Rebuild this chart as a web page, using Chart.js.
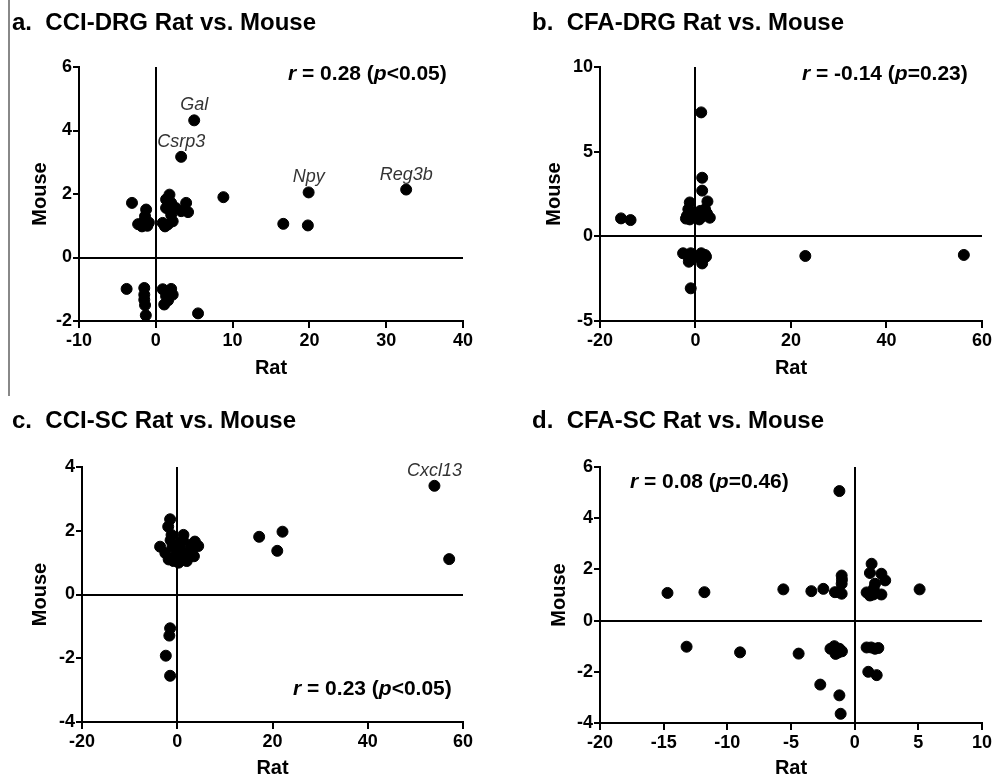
<!DOCTYPE html>
<html>
<head>
<meta charset="utf-8">
<script src="https://cdn.jsdelivr.net/npm/chart.js@4/dist/chart.umd.min.js"></script>
<style>
  body { margin: 0; background: #fff; }
  #wrap { position: relative; width: 994px; height: 779px; font-family: 'Liberation Sans', Arial, sans-serif; }
  canvas { position: absolute; }
  .title { position: absolute; font-size: 24px; font-weight: bold; line-height: 1; white-space: pre; color: #000; }
  .stat { position: absolute; font-size: 21px; font-weight: bold; line-height: 1; white-space: pre; color: #000; }
  #edge { position: absolute; left: 8px; top: 0; width: 2px; height: 396px; background: #888; }
</style>
</head>
<body>
<div id="wrap">
  <div id="edge"></div>
  <canvas id="chartA" width="497" height="390" style="left:0;top:0"></canvas>
  <canvas id="chartB" width="497" height="390" style="left:497px;top:0"></canvas>
  <canvas id="chartC" width="497" height="389" style="left:0;top:390px"></canvas>
  <canvas id="chartD" width="497" height="389" style="left:497px;top:390px"></canvas>

  <div class="title" style="left:12px;top:10px">a.  CCI-DRG Rat vs. Mouse</div>
  <div class="title" style="left:532px;top:10px">b.  CFA-DRG Rat vs. Mouse</div>
  <div class="title" style="left:12px;top:408px">c.  CCI-SC Rat vs. Mouse</div>
  <div class="title" style="left:532px;top:408px">d.  CFA-SC Rat vs. Mouse</div>

  <div class="stat" style="left:288px;top:62px"><i>r</i> = 0.28 (<i>p</i>&lt;0.05)</div>
  <div class="stat" style="left:802px;top:62px"><i>r</i> = -0.14 (<i>p</i>=0.23)</div>
  <div class="stat" style="left:293px;top:677px"><i>r</i> = 0.23 (<i>p</i>&lt;0.05)</div>
  <div class="stat" style="left:630px;top:470px"><i>r</i> = 0.08 (<i>p</i>=0.46)</div>
</div>
<script>
// a. CCI-DRG
const ccidrgRat = [5.0, 3.3, 19.9, 32.6, 8.8, 16.6, 19.8, -3.1, -1.26,
  -2.3, -1.5, -0.9, -1.8, -1.1, -1.4,
  1.78, 1.34, 2.0, 3.95, 1.34, 2.6, 4.2, 3.3, 2.0, 0.9, 1.56, 2.2, 1.2,
  -3.8, -1.5, -1.5, -1.5, -1.4, -1.3, 0.9, 2.0, 1.34, 1.1, 2.2, 5.5, 1.6];
const ccidrgMouse = [4.32, 3.17, 2.05, 2.14, 1.90, 1.06, 1.01, 1.72, 1.51,
  1.05, 1.15, 1.1, 0.98, 1.0, 1.3,
  1.98, 1.83, 1.72, 1.72, 1.56, 1.56, 1.43, 1.46, 1.35, 1.09, 1.04, 1.14, 0.98,
  -0.99, -0.96, -1.17, -1.33, -1.5, -1.82, -1.0, -0.99, -1.22, -1.48, -1.17, -1.76, -1.35];
const ccidrgXTicks = [-10, 0, 10, 20, 30, 40];
const ccidrgYTicks = [-2, 0, 2, 4, 6];
const ccidrgGenes = ['Gal', 'Csrp3', 'Npy', 'Reg3b'];
const ccidrgGeneRat = [5.0, 3.3, 19.9, 32.6];
const ccidrgGeneMouse = [4.32, 3.17, 2.05, 2.14];

// b. CFA-DRG
const cfadrgRat = [-15.6, -13.6, 1.2, 1.4, 1.4, -1.2, 2.5,
  -1.8, -1.2, -0.5, 0.3, 1.0, 1.6, 2.4, 3.0, -1.5, 0.8, 2.0, -2.0,
  -2.6, -1.8, -1.0, -0.6, -1.4, 0.6, 1.2, 2.0, 1.4, 2.2, -1.0, 23.0, 56.2];
const cfadrgMouse = [1.06, 0.96, 7.32, 3.46, 2.7, 2.0, 2.06,
  1.2, 1.0, 1.4, 1.1, 1.5, 1.2, 1.35, 1.1, 1.6, 1.0, 1.6, 1.05,
  -1.0, -1.1, -1.0, -1.3, -1.5, -1.2, -1.0, -1.1, -1.6, -1.2, -3.07, -1.16, -1.1];
const cfadrgXTicks = [-20, 0, 20, 40, 60];
const cfadrgYTicks = [-5, 0, 5, 10];

// c. CCI-SC
const cciscRat = [54.0, 57.1, 17.2, 22.1, 21.0,
  -1.5, -1.66, -2.4, -1.5,
  -1.5, -1.9, -1.2, -3.6, 1.3, 3.7, 4.4,
  -2.5, -1.8, -1.0, -0.5, 0.3, 0.8, 1.5, 2.2, 2.8, 3.5, 1.2, -1.4, 0.5, 2.0, -0.8, 1.0, 3.0];
const cciscMouse = [3.41, 1.11, 1.81, 1.97, 1.37,
  -1.06, -1.29, -1.92, -2.55,
  2.36, 2.13, 1.87, 1.5, 1.87, 1.66, 1.52,
  1.3, 1.1, 1.5, 1.2, 1.0, 1.4, 1.1, 1.3, 1.55, 1.2, 1.7, 1.7, 1.6, 1.05, 1.05, 1.2, 1.35];
const cciscXTicks = [-20, 0, 20, 40, 60];
const cciscYTicks = [-4, -2, 0, 2, 4];
const cciscGenes = ['Cxcl13'];
const cciscGeneRat = [54.0];
const cciscGeneMouse = [3.41];

// d. CFA-SC
const cfascRat = [-1.2, -14.7, -11.8, -5.6, -3.4, -2.46,
  -1.02, -1.02, -1.29, -1.02, -1.55, -1.0,
  1.33, 1.2, 2.1, 2.4, 1.6, 0.94, 1.46, 2.1, 1.2, 1.5, 5.1,
  -13.2, -9.0, -4.4, -1.6, -1.2, -1.5, -1.0, -1.9, -1.3,
  0.94, 1.3, 1.86, 1.6, 1.07, 1.73, -2.7, -1.2, -1.1];
const cfascMouse = [5.06, 1.08, 1.11, 1.22, 1.15, 1.24,
  1.76, 1.44, 1.11, 1.05, 1.11, 1.6,
  2.22, 1.86, 1.83, 1.57, 1.44, 1.1, 1.02, 1.02, 0.98, 1.25, 1.22,
  -1.02, -1.24, -1.29, -1.0, -1.1, -1.3, -1.2, -1.1, -1.25,
  -1.05, -1.05, -1.07, -1.1, -2.0, -2.13, -2.5, -2.92, -3.64];
const cfascXTicks = [-20, -15, -10, -5, 0, 5, 10];
const cfascYTicks = [-4, -2, 0, 2, 4, 6];

Chart.defaults.font.family = "'Liberation Sans', Arial, sans-serif";
Chart.defaults.color = '#000';

const zeroLine = ctx => (ctx.tick && ctx.tick.value === 0) ? '#000' : 'rgba(0,0,0,0)';

// writes the gene names just above their points
const geneLabels = {
  id: 'geneLabels',
  afterDatasetsDraw(chart, args, opts) {
    if (!opts.names) return;
    const c = chart.ctx;
    c.save();
    c.font = "italic 18px 'Liberation Sans', Arial, sans-serif";
    c.fillStyle = '#333';
    c.textAlign = 'center';
    c.textBaseline = 'alphabetic';
    opts.names.forEach((n, i) => {
      const x = chart.scales.x.getPixelForValue(opts.rat[i]);
      const y = chart.scales.y.getPixelForValue(opts.mouse[i]);
      c.fillText(n, x, y - 10);
    });
    c.restore();
  }
};

function makePanel(id, rat, mouse, xTicks, yTicks, box, genes) {
  const points = rat.map((r, i) => ({ x: r, y: mouse[i] }));
  const axis = (ticks, title, fit) => ({
    type: 'linear',
    min: ticks[0],
    max: ticks[ticks.length - 1],
    ticks: {
      stepSize: ticks[1] - ticks[0],
      autoSkip: false,
      maxRotation: 0,
      padding: fit.pad,
      color: '#000',
      font: { size: 18, weight: 'bold' }
    },
    grid: {
      color: zeroLine,
      lineWidth: 2,
      drawTicks: true,
      tickLength: fit.tick,
      tickColor: '#000',
      tickWidth: 2
    },
    border: { display: true, color: '#000', width: 2 },
    title: {
      display: true,
      text: title,
      color: '#000',
      padding: 0,
      font: { size: 20, weight: 'bold', lineHeight: 1 }
    },
    afterFit: fit.fn
  });
  return new Chart(document.getElementById(id), {
    type: 'scatter',
    data: {
      datasets: [{
        data: points,
        backgroundColor: '#000',
        borderColor: '#000',
        pointRadius: 5.5,
        pointHoverRadius: 5.5
      }]
    },
    options: {
      responsive: false,
      animation: false,
      layout: { padding: box.pad },
      plugins: {
        legend: { display: false },
        tooltip: { enabled: false },
        geneLabels: genes || {}
      },
      scales: {
        x: axis(xTicks, 'Rat', { pad: 2, tick: 7, fn: s => { s.height = box.xh; } }),
        y: axis(yTicks, 'Mouse', { pad: 1, tick: 6, fn: s => { s.width = box.yw; } })
      }
    },
    plugins: [geneLabels]
  });
}

makePanel('chartA', ccidrgRat, ccidrgMouse, ccidrgXTicks, ccidrgYTicks,
  { pad: { left: 30, right: 34, top: 67, bottom: 12 }, xh: 57, yw: 49 },
  { names: ccidrgGenes, rat: ccidrgGeneRat, mouse: ccidrgGeneMouse });
makePanel('chartB', cfadrgRat, cfadrgMouse, cfadrgXTicks, cfadrgYTicks,
  { pad: { left: 47, right: 12, top: 67, bottom: 12 }, xh: 57, yw: 56 });
makePanel('chartC', cciscRat, cciscMouse, cciscXTicks, cciscYTicks,
  { pad: { left: 30, right: 34, top: 77, bottom: 1 }, xh: 56, yw: 52 },
  { names: cciscGenes, rat: cciscGeneRat, mouse: cciscGeneMouse });
makePanel('chartD', cfascRat, cfascMouse, cfascXTicks, cfascYTicks,
  { pad: { left: 52, right: 12, top: 77, bottom: 1 }, xh: 55, yw: 51 });
</script>
</body>
</html>
